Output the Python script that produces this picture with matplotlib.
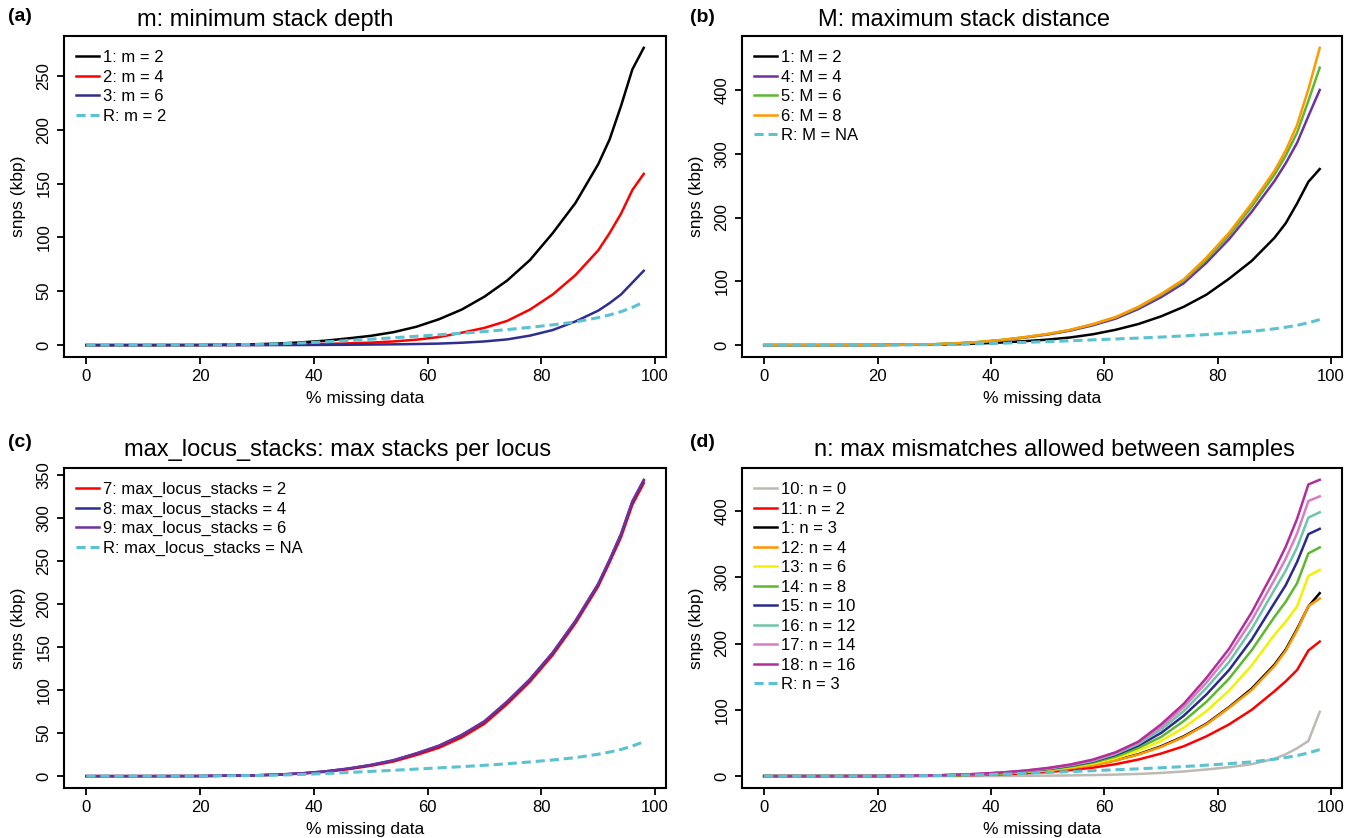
import matplotlib.pyplot as plt
from matplotlib.ticker import MultipleLocator

plt.rcParams['font.family'] = 'Liberation Sans'

# % missing data, shared by every run
missing = [0, 10, 20, 30, 34, 38, 42, 46, 50, 54, 58, 62, 66, 70, 74, 78, 82, 86, 90, 92, 94, 96, 98]

# snps (kbp) per run
run_1 = [0, 0, 0.1, 0.8, 1.5, 2.6, 4.1, 6.2, 8.6, 12, 17, 24, 33, 45, 60, 79, 104, 132, 168, 191, 222, 256, 276]
run_R = [0, 0, 0.1, 0.7, 1.2, 2.0, 3.0, 4.2, 5.5, 6.8, 8.2, 9.6, 11, 12.6, 14.4, 16.5, 18.8, 21.5, 25.5, 28, 31, 35, 40]

# (a) m
run_2 = [0, 0, 0, 0.2, 0.4, 0.7, 1.1, 1.6, 2.3, 3.4, 5.0, 7.5, 11.5, 16, 22.5, 33, 47, 65, 88, 104, 122, 144, 159]
run_3 = [0, 0, 0, 0, 0.05, 0.1, 0.2, 0.3, 0.5, 0.7, 1.0, 1.4, 2.2, 3.4, 5.3, 8.8, 14, 22, 32, 39, 47, 58, 69]

# (b) M
run_4 = [0, 0.02, 0.2, 1.3, 2.6, 4.7, 7.7, 11.8, 16.5, 22.7, 31, 41.5, 56.5, 75, 97, 129, 166, 209, 257, 285, 317, 359, 400]
run_5 = [0, 0.02, 0.2, 1.4, 2.7, 4.9, 8.1, 12.4, 17.3, 23.7, 32.5, 43.5, 59, 78.5, 101, 134, 172, 217, 267, 297, 333, 383, 435]
run_6 = [0, 0.02, 0.2, 1.4, 2.8, 5.0, 8.2, 12.5, 17.5, 24, 33, 44, 60, 80, 103, 137, 176, 222, 273, 305, 345, 401, 466]

# (c) max_locus_stacks
run_7 = [0, 0, 0.1, 0.9, 1.7, 3.0, 5.0, 8.0, 12, 17, 24.5, 33, 45, 61, 84, 110, 141, 178, 221, 249, 278, 316, 341]
run_8 = [0, 0, 0.1, 1.0, 1.9, 3.3, 5.5, 8.7, 12.9, 18.3, 26.2, 35.2, 47.6, 63.5, 86.5, 112.5, 143.5, 180.5, 223.5, 251.5, 281.5, 319.5, 344]
run_9 = [0, 0, 0.1, 1.0, 1.9, 3.3, 5.5, 8.8, 13, 18.5, 26.5, 35.5, 48, 64, 87, 113, 144, 181, 224, 252, 282, 320, 345]

# (d) n
run_10 = [0, 0, 0, 0.05, 0.1, 0.15, 0.25, 0.4, 0.7, 1.1, 1.6, 2.3, 3.3, 4.8, 7, 10, 13.5, 18, 26, 33, 42, 53, 97]
run_11 = [0, 0, 0.1, 0.5, 1.0, 1.8, 2.8, 4.2, 6.2, 9, 12.8, 18, 25, 34, 45, 60, 78, 100, 128, 143, 160, 189.5, 203]
run_12 = [0, 0, 0.1, 0.8, 1.4, 2.5, 4.0, 6.0, 8.4, 11.8, 16.5, 23.5, 32.5, 44, 59, 78, 103, 130, 166, 189, 220, 256.5, 268]
run_13 = [0, 0, 0.1, 0.9, 1.6, 2.8, 4.4, 6.6, 9.5, 13.5, 19, 27, 38.5, 53, 73, 98, 129, 167, 213, 233, 256, 302, 311]
run_14 = [0, 0, 0.1, 1.0, 1.7, 3.0, 4.7, 7.0, 10.2, 14.5, 20.5, 29.5, 42.5, 59, 83, 112, 147, 190, 240, 263, 291, 336, 345]
run_15 = [0, 0, 0.1, 1.0, 1.8, 3.1, 5.0, 7.4, 10.8, 15.5, 22, 32, 46, 65, 91, 123, 160, 206, 261, 288, 323, 365, 373]
run_16 = [0, 0, 0.1, 1.05, 1.9, 3.3, 5.2, 7.8, 11.3, 16.3, 23, 33.5, 48.5, 70, 98, 133, 172, 222, 281, 310, 345, 390, 398]
run_17 = [0, 0, 0.1, 1.1, 2.0, 3.4, 5.4, 8.1, 11.8, 17, 24, 35, 50.5, 74, 104, 141, 183, 235, 296, 328, 366, 415, 422]
run_18 = [0, 0, 0.1, 1.15, 2.1, 3.5, 5.6, 8.4, 12.3, 17.5, 25, 36, 52, 78, 109, 148, 192, 247, 311, 346, 388, 440, 447]

DASH = (0, (3, 1.6))
LW = 1.8

fig = plt.figure(figsize=(13.51, 8.38), dpi=100)


def style_axes(ax, ystep):
    ax.margins(x=0.04, y=0.04)
    ax.xaxis.set_major_locator(MultipleLocator(20))
    ax.yaxis.set_major_locator(MultipleLocator(ystep))
    ax.set_xlim(-3.92, 101.92)
    for s in ax.spines.values():
        s.set_linewidth(1.5)
    ax.tick_params(direction='out', length=5, width=1.3, labelsize=12, pad=4)
    for lab in ax.get_yticklabels():
        lab.set_rotation(90)
        lab.set_va('center')
    ax.set_xlabel('% missing data', fontsize=12.5)
    ax.set_ylabel('snps (kbp)', fontsize=12.5)
    ax.xaxis.set_label_coords(0.5, -0.106)
    ax.yaxis.set_label_coords(-0.064, 0.5)
    ax.legend(loc='upper left', bbox_to_anchor=(0.02, 0.956), frameon=False,
              fontsize=12, handlelength=1.4, handletextpad=0.2,
              labelspacing=0.27, borderaxespad=0, borderpad=0)


# ---------------- (a) m: minimum stack depth ----------------
ax_a = fig.add_axes([0.0474, 0.574, 0.4456, 0.3831])
ax_a.plot(missing, run_1, color='black', lw=LW, label='1: m = 2')
ax_a.plot(missing, run_2, color='#ff0000', lw=LW, label='2: m = 4')
ax_a.plot(missing, run_3, color='#2e2e8f', lw=LW, label='3: m = 6')
ax_a.plot(missing, run_R, color='#5bc2d2', lw=2.2, ls=DASH, label='R: m = 2')
style_axes(ax_a, 50)

# ---------------- (b) M: maximum stack distance ----------------
ax_b = fig.add_axes([0.5492, 0.574, 0.4441, 0.3831])
ax_b.plot(missing, run_1, color='black', lw=LW, label='1: M = 2')
ax_b.plot(missing, run_4, color='#7030a0', lw=LW, label='4: M = 4')
ax_b.plot(missing, run_5, color='#5db82e', lw=LW, label='5: M = 6')
ax_b.plot(missing, run_6, color='#ff9900', lw=LW, label='6: M = 8')
ax_b.plot(missing, run_R, color='#5bc2d2', lw=2.2, ls=DASH, label='R: M = NA')
style_axes(ax_b, 100)

# ---------------- (c) max_locus_stacks ----------------
ax_c = fig.add_axes([0.0474, 0.0597, 0.4456, 0.3819])
ax_c.plot(missing, run_7, color='#ff0000', lw=LW, label='7: max_locus_stacks = 2')
ax_c.plot(missing, run_8, color='#2e2e8f', lw=LW, label='8: max_locus_stacks = 4')
ax_c.plot(missing, run_9, color='#7030a0', lw=LW, label='9: max_locus_stacks = 6')
ax_c.plot(missing, run_R, color='#5bc2d2', lw=2.2, ls=DASH, label='R: max_locus_stacks = NA')
style_axes(ax_c, 50)

# ---------------- (d) n: max mismatches ----------------
ax_d = fig.add_axes([0.5492, 0.0597, 0.4441, 0.3819])
ax_d.plot(missing, run_10, color='#bdb9b3', lw=LW, label='10: n = 0')
ax_d.plot(missing, run_11, color='#ff0000', lw=LW, label='11: n = 2')
ax_d.plot(missing, run_1, color='black', lw=LW, label='1: n = 3')
ax_d.plot(missing, run_12, color='#ff9400', lw=LW, label='12: n = 4')
ax_d.plot(missing, run_13, color='#f2f200', lw=LW, label='13: n = 6')
ax_d.plot(missing, run_14, color='#5db82e', lw=LW, label='14: n = 8')
ax_d.plot(missing, run_15, color='#2a2a8c', lw=LW, label='15: n = 10')
ax_d.plot(missing, run_16, color='#6cc6a8', lw=LW, label='16: n = 12')
ax_d.plot(missing, run_17, color='#d97cc2', lw=LW, label='17: n = 14')
ax_d.plot(missing, run_18, color='#b22e9a', lw=LW, label='18: n = 16')
ax_d.plot(missing, run_R, color='#5bc2d2', lw=2.2, ls=DASH, label='R: n = 3')
style_axes(ax_d, 100)

# titles and panel letters
fig.text(265 / 1351, 1 - 26 / 838, 'm: minimum stack depth', fontsize=17, ha='center', va='baseline')
fig.text(964 / 1351, 1 - 26 / 838, 'M: maximum stack distance', fontsize=17, ha='center', va='baseline')
fig.text(338 / 1351, 1 - 456 / 838, 'max_locus_stacks: max stacks per locus', fontsize=17, ha='center', va='baseline')
fig.text(1054 / 1351, 1 - 456 / 838, 'n: max mismatches allowed between samples', fontsize=17, ha='center', va='baseline')

fig.text(8 / 1351, 1 - 21 / 838, '(a)', fontsize=14, fontweight='bold', va='baseline')
fig.text(690 / 1351, 1 - 22 / 838, '(b)', fontsize=14, fontweight='bold', va='baseline')
fig.text(8 / 1351, 1 - 447 / 838, '(c)', fontsize=14, fontweight='bold', va='baseline')
fig.text(690 / 1351, 1 - 447 / 838, '(d)', fontsize=14, fontweight='bold', va='baseline')

fig.savefig('out.png', dpi=100)
